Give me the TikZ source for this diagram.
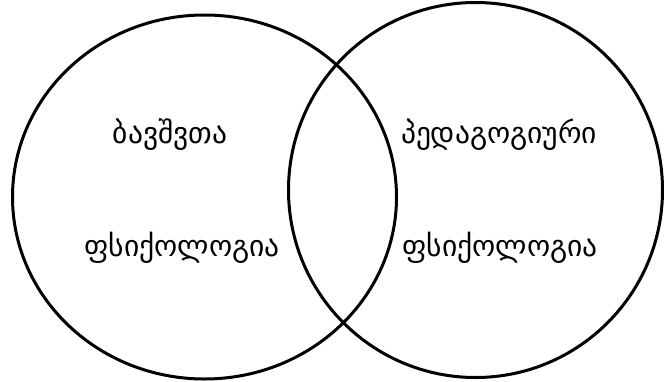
\documentclass[tikz,border=0pt]{standalone}
\usepackage{fontspec}
\newfontfamily\geo[Script=Georgian]{DejaVu Sans}
\begin{document}
\begin{tikzpicture}[x=1pt,y=-1pt,
  ring/.style={line width=3pt},
  label/.style={font=\geo\fontsize{29.5}{34}\selectfont, inner sep=0pt, anchor=base}]
\useasboundingbox (0,0) rectangle (664,381);
\draw[ring] (204.5,197) ellipse [x radius=192pt, y radius=182pt];
\draw[ring] (475.5,190) ellipse [x radius=187pt, y radius=187.5pt];
\node[label] (a1) at (170,143) {ბავშვთა};
\node[label] (a2) at (182,256) {ფსიქოლოგია};
\node[label] (b1) at (499,143) {პედაგოგიური};
\node[label] (b2) at (500,256) {ფსიქოლოგია};
\end{tikzpicture}
\end{document}
